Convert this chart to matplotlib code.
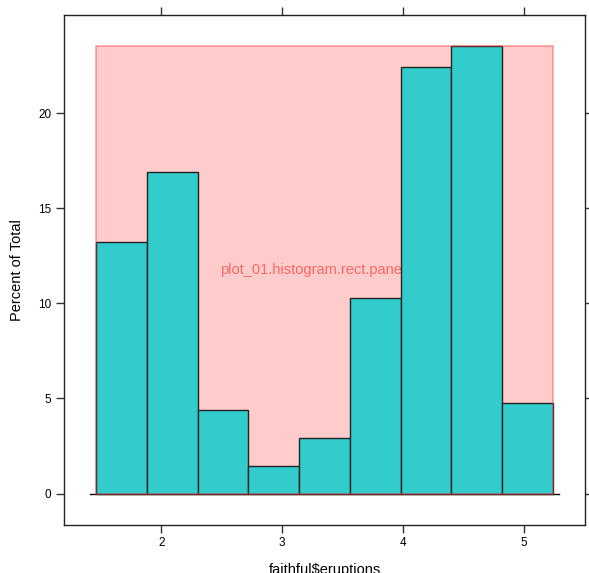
import numpy as np
import matplotlib
matplotlib.use("Agg")
import matplotlib.pyplot as plt
from matplotlib.patches import Rectangle

# Data
edges = [1.46, 1.88, 2.30, 2.72, 3.14, 3.56, 3.98, 4.40, 4.82, 5.24]
percents = [13.235, 16.912, 4.412, 1.471, 2.941, 10.294, 22.426, 23.529, 4.779]
xticks = [2, 3, 4, 5]
yticks = [0, 5, 10, 15, 20]

plt.rcParams['font.family'] = ['Liberation Sans', 'DejaVu Sans']

fig = plt.figure(figsize=(5.89, 5.73), dpi=100)
W, H = 589, 573
ax = fig.add_axes([64 / W, 1 - 525 / H, (585 - 64) / W, (525 - 14.5) / H])

e = np.array(edges)
p = np.array(percents)
xr = e[-1] - e[0]
ax.set_xlim(e[0] - 0.07 * xr, e[-1] + 0.07 * xr)
ax.set_ylim(-0.07 * p.max(), p.max() * 1.07)

# highlight rectangle (fill)
ax.add_patch(Rectangle((e[0], 0), e[-1] - e[0], p.max(), facecolor='#ffcccc',
                       edgecolor='none', zorder=1))
ax.text((e[0] + e[-1]) / 2, p.max() / 2, 'plot_01.histogram.rect.panel.1.1',
        color='#ff6666', fontsize=10.5, ha='center', va='center', zorder=2)

# baseline
ax.plot([e[0] - 0.05, e[-1] + 0.05], [0, 0], color='black', lw=1, zorder=2.5)

ax.bar(e[:-1], p, width=np.diff(e), align='edge', color='#33cccc',
       edgecolor='#222222', linewidth=1, zorder=3)

# highlight border on top
ax.add_patch(Rectangle((e[0], 0), e[-1] - e[0], p.max(), facecolor='none',
                       edgecolor='#ff3333', alpha=0.45, linewidth=1.2, zorder=4))

ax.set_xticks(xticks)
ax.set_yticks(yticks)
ax.tick_params(axis='both', direction='out', length=5.5, width=1, labelsize=8.5,
               top=True, right=True, labeltop=False, labelright=False, color='#333333')
for s in ax.spines.values():
    s.set_color('#222222')
    s.set_linewidth(1)
ax.set_ylabel('Percent of Total', fontsize=10.5, labelpad=10)
ax.set_xlabel('faithful$eruptions', fontsize=10.5, labelpad=10)

fig.savefig('out.png', dpi=100)
